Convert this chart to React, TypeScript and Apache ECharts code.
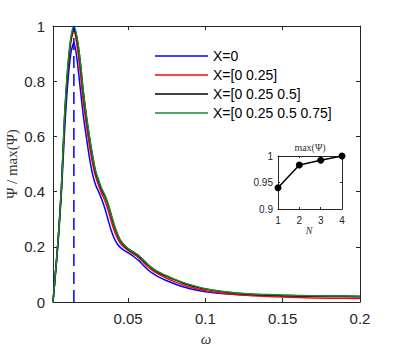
import React, { useEffect, useRef } from "react";
import * as echarts from "echarts";

const omega = [
  0.0015, 0.003, 0.005, 0.007, 0.009, 0.011, 0.013, 0.015, 0.017, 0.019, 0.021, 0.023, 0.025,
  0.027, 0.029, 0.031, 0.033, 0.035, 0.037, 0.039, 0.041, 0.043, 0.045, 0.048, 0.051, 0.054,
  0.057, 0.06, 0.063, 0.066, 0.07, 0.075, 0.08, 0.085, 0.09, 0.1, 0.11, 0.12, 0.13, 0.14, 0.15,
  0.16, 0.18, 0.2,
];

const psiX0 = [
  0, 0.095, 0.23, 0.4, 0.62, 0.79, 0.9, 0.94,
  0.88, 0.78, 0.68, 0.6, 0.525, 0.465, 0.425, 0.4, 0.372, 0.34, 0.3, 0.262, 0.232, 0.211, 0.198,
  0.185, 0.175, 0.163, 0.15, 0.132, 0.116, 0.104, 0.09, 0.077, 0.066, 0.056, 0.048, 0.037, 0.031,
  0.027, 0.025, 0.023, 0.022, 0.021, 0.02, 0.019,
];
const psiX1 = [
  0, 0.1, 0.24, 0.42, 0.66, 0.83, 0.94, 0.983,
  0.93, 0.84, 0.73, 0.645, 0.568, 0.503, 0.455, 0.422, 0.393, 0.368, 0.335, 0.296, 0.26, 0.233,
  0.213, 0.196, 0.183, 0.172, 0.16, 0.143, 0.127, 0.114, 0.1, 0.086, 0.074, 0.063, 0.054, 0.041,
  0.033, 0.027, 0.023, 0.02, 0.018, 0.016, 0.014, 0.013,
];
const psiX2 = [
  0, 0.1, 0.24, 0.42, 0.67, 0.84, 0.95, 0.992,
  0.955, 0.875, 0.765, 0.675, 0.598, 0.53, 0.472, 0.437, 0.406, 0.383, 0.354, 0.316, 0.277, 0.247,
  0.222, 0.202, 0.188, 0.178, 0.166, 0.15, 0.134, 0.12, 0.106, 0.093, 0.081, 0.07, 0.061, 0.047,
  0.038, 0.032, 0.028, 0.026, 0.024, 0.023, 0.021, 0.02,
];
const psiX3 = [
  0, 0.1, 0.24, 0.42, 0.68, 0.85, 0.955, 1.0,
  0.96, 0.88, 0.77, 0.68, 0.603, 0.535, 0.477, 0.442, 0.411, 0.388, 0.359, 0.321, 0.282, 0.251,
  0.225, 0.205, 0.19, 0.18, 0.168, 0.152, 0.136, 0.122, 0.108, 0.095, 0.083, 0.072, 0.063, 0.048,
  0.039, 0.033, 0.029, 0.027, 0.025, 0.024, 0.022, 0.021,
];

const seriesNames = ["X=0", "X=[0 0.25]", "X=[0 0.25 0.5]", "X=[0 0.25 0.5 0.75]"];
const seriesColors = ["#0000ff", "#ff0000", "#000000", "#138a2e"];
const peakOmega = 0.015;

const insetN = [1, 2, 3, 4];
const insetMax = [0.94, 0.983, 0.992, 1.0];

const xTicks = [0.05, 0.1, 0.15, 0.2];

const AX = "#262626";
const SANS = "Liberation Sans, Arial, sans-serif";
const SERIF = "Liberation Serif, DejaVu Serif, serif";

export default function App() {
  const ref = useRef<HTMLDivElement>(null);
  useEffect(() => {
    if (!ref.current) return;
    const chart = echarts.init(ref.current, undefined, { renderer: "svg" });
    const pair = (ys: number[]) => omega.map((x, i) => [x, ys[i]]);
    const allY = [psiX0, psiX1, psiX2, psiX3];

    const axisLine = { show: true, onZero: false, lineStyle: { color: AX, width: 1 } };

    chart.setOption({
      animation: false,
      backgroundColor: "#ffffff",
      grid: [
        { left: 53, top: 26, width: 307, height: 276 },
        { left: 278, top: 156, width: 64, height: 53 },
      ],
      legend: {
        data: seriesNames.map((name) => ({ name, icon: "rect" })),
        orient: "vertical",
        left: 155,
        top: 49,
        padding: 0,
        itemWidth: 53,
        itemHeight: 1.6,
        itemGap: 5,
        textStyle: { fontFamily: SANS, fontSize: 14, color: "#000", lineHeight: 14 },
      },
      xAxis: [
        {
          gridIndex: 0, type: "value", position: "bottom", min: 0.0015, max: 0.2,
          axisLine, splitLine: { show: false },
          axisTick: { inside: true, length: 4, customValues: xTicks, lineStyle: { color: AX } },
          axisLabel: { customValues: xTicks, margin: 9, fontFamily: SANS, fontSize: 15, color: AX },
        },
        {
          gridIndex: 0, type: "value", position: "top", min: 0.0015, max: 0.2,
          axisLine, splitLine: { show: false },
          axisTick: { inside: true, length: 4, customValues: xTicks, lineStyle: { color: AX } },
          axisLabel: { show: false },
        },
        {
          gridIndex: 1, type: "value", position: "bottom", min: 1, max: 4, interval: 1,
          axisLine, splitLine: { show: false },
          axisTick: { inside: true, length: 2, lineStyle: { color: AX } },
          axisLabel: { margin: 6, fontFamily: SANS, fontSize: 10, color: AX },
        },
        {
          gridIndex: 1, type: "value", position: "top", min: 1, max: 4, interval: 1,
          axisLine, splitLine: { show: false },
          axisTick: { inside: true, length: 2, lineStyle: { color: AX } },
          axisLabel: { show: false },
        },
      ],
      yAxis: [
        {
          gridIndex: 0, type: "value", position: "left", min: 0, max: 1, interval: 0.2,
          axisLine, splitLine: { show: false },
          axisTick: { inside: true, length: 4, lineStyle: { color: AX } },
          axisLabel: { margin: 8, fontFamily: SANS, fontSize: 15, color: AX },
        },
        {
          gridIndex: 0, type: "value", position: "right", min: 0, max: 1, interval: 0.2,
          axisLine, splitLine: { show: false },
          axisTick: { inside: true, length: 4, lineStyle: { color: AX } },
          axisLabel: { show: false },
        },
        {
          gridIndex: 1, type: "value", position: "left", min: 0.9, max: 1, interval: 0.05,
          axisLine, splitLine: { show: false },
          axisTick: { inside: true, length: 2, lineStyle: { color: AX } },
          axisLabel: { margin: 5, fontFamily: SANS, fontSize: 10, color: AX },
        },
        {
          gridIndex: 1, type: "value", position: "right", min: 0.9, max: 1, interval: 0.05,
          axisLine, splitLine: { show: false },
          axisTick: { inside: true, length: 2, lineStyle: { color: AX } },
          axisLabel: { show: false },
        },
      ],
      series: [
        ...seriesNames.map((name, i) => ({
          name,
          type: "line",
          xAxisIndex: 0,
          yAxisIndex: 0,
          data: pair(allY[i]),
          symbol: "none",
          smooth: 0.25,
          color: seriesColors[i],
          lineStyle: { color: seriesColors[i], width: 1.5 },
          z: 2 + i,
        })),
        {
          name: "peak",
          type: "line",
          xAxisIndex: 0,
          yAxisIndex: 0,
          data: [[peakOmega, 0], [peakOmega, 1]],
          symbol: "none",
          lineStyle: { color: "#0000ff", width: 1.5, type: [12, 6] },
          z: 10,
        },
        {
          name: "inset",
          type: "line",
          xAxisIndex: 2,
          yAxisIndex: 2,
          data: insetN.map((n, i) => [n, insetMax[i]]),
          symbol: "circle",
          symbolSize: 7,
          itemStyle: { color: "#000" },
          lineStyle: { color: "#000", width: 1.5 },
          z: 10,
        },
      ],
      graphic: [
        {
          type: "text", x: 12, y: 164, rotation: Math.PI / 2,
          style: { text: "Ψ / max(Ψ)", font: `15px ${SERIF}`, fill: "#333", align: "center", verticalAlign: "middle" },
        },
        {
          type: "text", x: 206, y: 339,
          style: { text: "ω", font: `italic 15px ${SERIF}`, fill: "#333", align: "center", verticalAlign: "middle" },
        },
        {
          type: "text", x: 310, y: 147,
          style: { text: "max(Ψ)", font: `10px ${SERIF}`, fill: "#333", align: "center", verticalAlign: "middle" },
        },
        {
          type: "text", x: 309, y: 230,
          style: { text: "N", font: `italic 10px ${SERIF}`, fill: "#333", align: "center", verticalAlign: "middle" },
        },
      ],
    });
    return () => chart.dispose();
  }, []);
  return <div ref={ref} style={{ width: 399, height: 348, position: "absolute", left: 0, top: 0 }} />;
}
